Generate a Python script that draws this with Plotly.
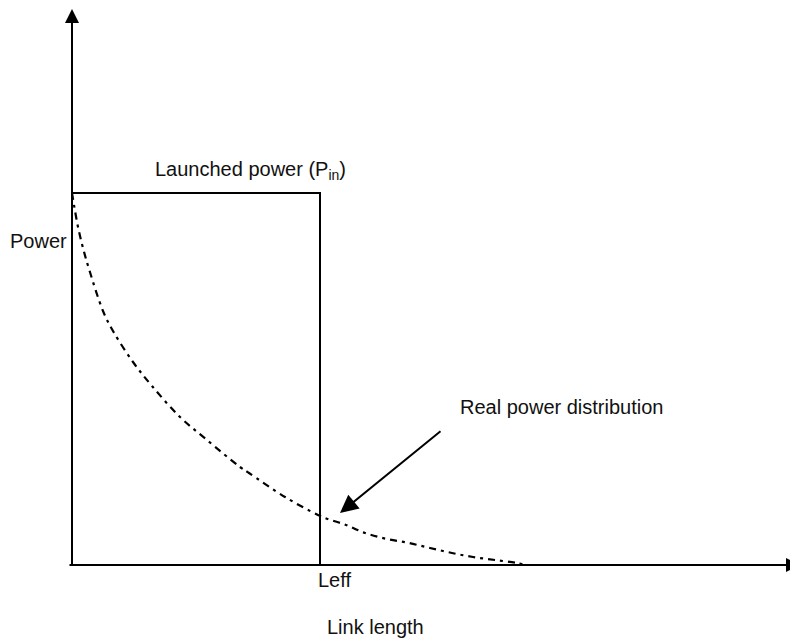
import plotly.graph_objects as go

# Data (arbitrary units: link length vs power)
curve_x = [0, 2, 6, 11, 17, 31, 41, 61, 80, 108, 135, 168, 177, 213, 246, 253,
           274, 293, 315, 337, 358, 380, 401, 423, 445, 453]
curve_y = [372, 360, 338, 317, 296, 254, 234, 203, 179, 148, 125, 98, 92, 68, 50, 47,
           40, 32, 26, 22, 17, 12, 8, 5, 2, 0]
p_in = 372
l_eff = 248
x_max = 726
y_max = 556

FONT = "Liberation Sans, Arial, Helvetica, sans-serif"
INK = "#111111"

fig = go.Figure()

# Launched power rectangle (top + right side at Leff)
fig.add_trace(go.Scatter(
    x=[0, l_eff, l_eff], y=[p_in, p_in, 0],
    mode="lines", line=dict(color="black", width=2),
    hoverinfo="skip"))

# Real power distribution curve
fig.add_trace(go.Scatter(
    x=curve_x, y=curve_y, mode="lines",
    line=dict(color="black", width=2.2, dash="7px,5px,3px,5px", shape="spline"),
    hoverinfo="skip"))

anns = []
# Axes with arrowheads
anns.append(dict(x=0, y=y_max, ax=0, ay=-1, xref="x", yref="y", axref="x", ayref="y",
                 showarrow=True, arrowhead=2, arrowsize=1.4, arrowwidth=2,
                 arrowcolor="black", text=""))
anns.append(dict(x=x_max + 2, y=0, ax=-4, ay=0, xref="x", yref="y", axref="x", ayref="y",
                 showarrow=True, arrowhead=2, arrowsize=1.4, arrowwidth=2,
                 arrowcolor="black", text=""))
# Pointer to real power distribution
anns.append(dict(x=268, y=52, ax=370, ay=135, xref="x", yref="y", axref="x", ayref="y",
                 showarrow=True, arrowhead=2, arrowsize=1.8, arrowwidth=2,
                 arrowcolor="black", text=""))

def label(text, x, y):
    anns.append(dict(x=x, y=y, xref="x", yref="y", text=text, showarrow=False,
                     xanchor="center", yanchor="middle",
                     font=dict(family=FONT, size=20, color=INK)))

label("Launched power (P<sub>in</sub>)", 178, 395)
label("Power", -34, 324)
label("Real power distribution", 489, 158)
label("Leff", 262, -15)
label("Link length", 303, -62)

fig.update_layout(
    width=790, height=632,
    margin=dict(l=0, r=0, t=0, b=0),
    paper_bgcolor="white", plot_bgcolor="white",
    showlegend=False,
    annotations=anns,
    xaxis=dict(range=[-64, 726], visible=False, fixedrange=True),
    yaxis=dict(range=[-75, 557], visible=False, fixedrange=True),
)

fig.write_html("out.html")
